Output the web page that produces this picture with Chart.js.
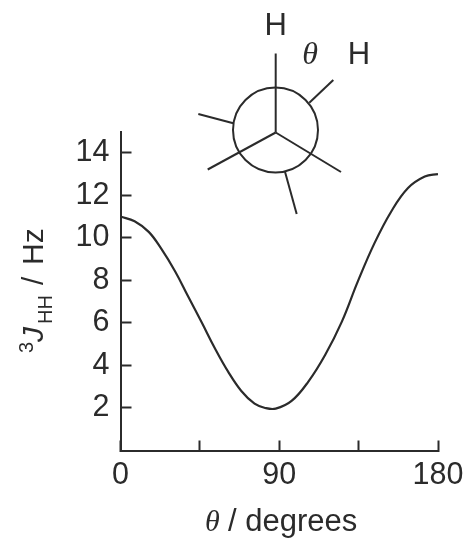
<!DOCTYPE html>
<html>
<head>
<meta charset="utf-8">
<title>Karplus curve</title>
<script src="https://cdn.jsdelivr.net/npm/chart.js@4/dist/chart.umd.min.js"></script>
<style>
  html, body { margin: 0; padding: 0; background: #fff; }
  canvas { display: block; }
</style>
</head>
<body>
<canvas id="karplus" width="464" height="538"></canvas>
<script>
// values
var angles = [0, 8, 16, 23, 31, 38, 46, 53.5, 61, 68.5, 76, 82, 88, 97, 106.5, 116, 125.5, 134.5, 144, 153.5, 163, 172.5, 180];
var coupling = [11, 10.78, 10.28, 9.5, 8.42, 7.3, 6.03, 4.81, 3.71, 2.8, 2.2, 2.0, 1.97, 2.33, 3.24, 4.49, 6.06, 7.94, 9.75, 11.24, 12.34, 12.88, 13];
var yTicks = [2, 4, 6, 8, 10, 12, 14];
var xTicks = [0, 45, 90, 135, 180];
var xLabels = [0, 90, 180];

var ink = '#2b2b2b';
var sans = '"Liberation Sans", Arial, sans-serif';
var serif = '"Liberation Serif", "Times New Roman", serif';

// Newman projection above the plot and the two mixed-font axis titles
var decorations = {
    id: 'decorations',
    afterDraw: function (chart) {
        var c = chart.ctx;
        c.save();
        c.strokeStyle = ink;
        c.fillStyle = ink;
        c.lineWidth = 2;
        c.lineCap = 'butt';

        c.beginPath();
        c.arc(275.5, 130, 42.5, 0, Math.PI * 2);
        c.stroke();

        var bonds = [
            [275.7, 132.5, 275.7, 53.5],
            [275.7, 132.5, 207.7, 169.5],
            [275.7, 132.5, 341, 172],
            [309.3, 102.7, 333.3, 80],
            [233.3, 123.3, 198.3, 114],
            [285, 171.7, 296.7, 214]
        ];
        bonds.forEach(function (b) {
            c.beginPath();
            c.moveTo(b[0], b[1]);
            c.lineTo(b[2], b[3]);
            c.stroke();
        });

        c.textBaseline = 'alphabetic';
        c.textAlign = 'center';
        c.font = '31px ' + sans;
        c.fillText('H', 275.7, 35);
        c.fillText('H', 359, 64);
        c.font = 'italic 32px ' + serif;
        c.fillText('θ', 310, 64);

        // x title
        c.textAlign = 'left';
        c.font = 'italic 30px ' + serif;
        c.fillText('θ', 205, 531);
        c.font = '31px ' + sans;
        c.fillText('/ degrees', 228, 531);

        // y title, rotated so it reads bottom to top
        c.translate(43, 353);
        c.rotate(-Math.PI / 2);
        c.font = '20px ' + sans;
        c.fillText('3', 0, -10);
        c.font = 'italic 30px ' + sans;
        c.fillText('J', 11, 0);
        c.font = '20px ' + sans;
        c.fillText('HH', 29, 9);
        c.font = '30px ' + sans;
        c.fillText('/', 68, 0);
        c.fillText('Hz', 88, 0);
        c.restore();
    }
};

new Chart(document.getElementById('karplus').getContext('2d'), {
    type: 'line',
    data: {
        datasets: [{
            data: angles.map(function (a, i) { return { x: a, y: coupling[i] }; }),
            borderColor: ink,
            borderWidth: 2.2,
            pointRadius: 0,
            tension: 0.4,
            fill: false
        }]
    },
    options: {
        responsive: false,
        animation: false,
        events: [],
        layout: { padding: { top: 131.5, right: 26, left: 0, bottom: 0 } },
        plugins: { legend: { display: false }, tooltip: { enabled: false } },
        scales: {
            x: {
                type: 'linear',
                min: 0,
                max: 180,
                afterFit: function (s) {
                    s.height = 87.5;
                    s.paddingRight = 0;
                    s.paddingLeft = 0;
                },
                afterBuildTicks: function (s) {
                    s.ticks = xTicks.map(function (v) { return { value: v }; });
                },
                border: { color: ink, width: 2 },
                grid: { drawOnChartArea: false, tickLength: -10, tickColor: ink, tickWidth: 2 },
                ticks: {
                    autoSkip: false,
                    maxRotation: 0,
                    padding: 17,
                    color: ink,
                    font: { family: sans, size: 30.5 },
                    callback: function (v) { return xLabels.indexOf(v) >= 0 ? String(v) : ''; }
                }
            },
            y: {
                min: 0,
                max: 15,
                afterFit: function (s) { s.width = 120.5; },
                afterBuildTicks: function (s) {
                    s.ticks = yTicks.map(function (v) { return { value: v }; });
                },
                border: { color: ink, width: 2 },
                grid: { drawOnChartArea: false, tickLength: -11, tickColor: ink, tickWidth: 2 },
                ticks: {
                    autoSkip: false,
                    padding: 22,
                    color: ink,
                    font: { family: sans, size: 30.5 }
                }
            }
        }
    },
    plugins: [decorations]
});
</script>
</body>
</html>
